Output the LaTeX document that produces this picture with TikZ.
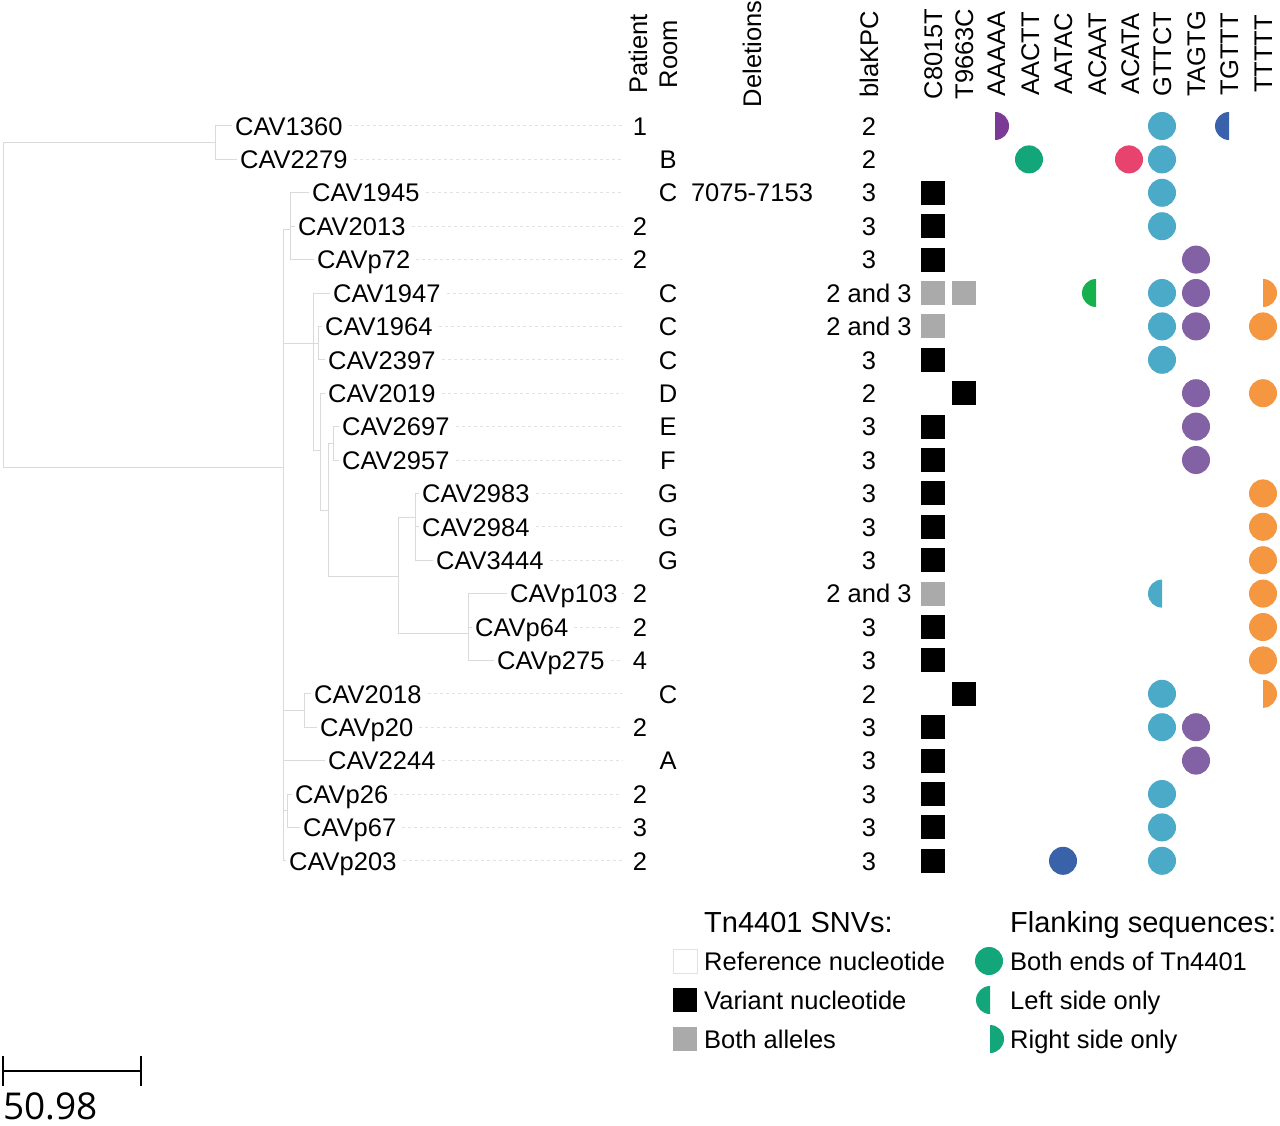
\documentclass[tikz,border=0pt]{standalone}
\usepackage{fontspec}
\setmainfont{Liberation Sans}
\newfontfamily\barfont{Open Sans}
\definecolor{treegray}{HTML}{DADADA}
\definecolor{leadgray}{HTML}{E2E2E2}
\definecolor{bothgray}{HTML}{AAAAAA}
\definecolor{cAAAAA}{HTML}{7A3A96}
\definecolor{cAACTT}{HTML}{14A67B}
\definecolor{cAATAC}{HTML}{3A62A8}
\definecolor{cACAAT}{HTML}{16B04F}
\definecolor{cACATA}{HTML}{E8436F}
\definecolor{cGTTCT}{HTML}{4AAAC8}
\definecolor{cTAGTG}{HTML}{8262A5}
\definecolor{cTGTTT}{HTML}{3A62AC}
\definecolor{cTTTTT}{HTML}{F59640}
\newcommand\flF[3]{\fill[#3] (#1,#2) circle (14);}
\newcommand\flL[3]{\begin{scope}\clip (#1-15,#2-15) rectangle (#1,#2+15);\fill[#3] (#1,#2) circle (14);\end{scope}}
\newcommand\flR[3]{\begin{scope}\clip (#1,#2-15) rectangle (#1+15,#2+15);\fill[#3] (#1,#2) circle (14);\end{scope}}
\newcommand\sqV[2]{\fill[black] (#1-12,#2-12) rectangle (#1+12,#2+12);}
\newcommand\sqB[2]{\fill[bothgray] (#1-12,#2-12) rectangle (#1+12,#2+12);}
\begin{document}
\begin{tikzpicture}[x=1pt,y=-1pt,
  lbl/.style={anchor=base west,inner sep=0pt,font=\fontsize{25.5}{30}\selectfont},
  val/.style={anchor=base,inner sep=0pt,font=\fontsize{25.5}{30}\selectfont},
  hdr/.style={anchor=base,rotate=90,inner sep=0pt,font=\fontsize{25.5}{30}\selectfont},
  legh/.style={anchor=base west,inner sep=0pt,font=\fontsize{29}{34}\selectfont},
  branch/.style={draw=treegray,line width=1pt},
  leader/.style={draw=leadgray,line width=1pt,dash pattern=on 3pt off 3pt},
]
\useasboundingbox[fill=white] (0,0) rectangle (1280,1126);

% ---------- leaves ----------
\foreach \i/\xl/\nm in {1/235/CAV1360,2/240/CAV2279,3/312/CAV1945,4/298/CAV2013,5/317/CAVp72,
  6/333/CAV1947,7/325/CAV1964,8/328/CAV2397,9/328/CAV2019,10/342/CAV2697,11/342/CAV2957,
  12/422/CAV2983,13/422/CAV2984,14/436/CAV3444,15/510/CAVp103,16/475/CAVp64,17/497/CAVp275,
  18/314/CAV2018,19/320/CAVp20,20/328/CAV2244,21/295/CAVp26,22/303/CAVp67,23/289/CAVp203}{
  \pgfmathsetmacro\yy{126+(\i-1)*33.4}
  \coordinate (r\i) at (0,\yy);
  \coordinate (t\i) at (\xl-3,\yy);
  \node[lbl] (leaf\i) at (\xl,\yy+9.2) {\nm};
  \draw[leader] (leaf\i.east |- r\i) ++(6,0) -- (622,\yy);
}

% ---------- tree ----------
\coordinate (root) at (3,304);
\coordinate (A) at (215,142.7);
\coordinate (B) at (283,467);
\coordinate (C1) at (290,230);
\coordinate (C2) at (313,343);
\coordinate (D) at (318,343);
\coordinate (E) at (320,450);
\coordinate (F) at (328,510);
\coordinate (G) at (333,443);
\coordinate (H) at (398,576);
\coordinate (I) at (415,517);
\coordinate (J) at (468,633);
\coordinate (K) at (304,710);
\coordinate (L) at (287,810);
\draw[branch] (root) |- (A); \draw[branch] (root) |- (B);
\draw[branch] (A) |- (t1); \draw[branch] (A) |- (t2);
\foreach \c in {C1,C2,K,t20,L,t23} {\draw[branch] (B) |- (\c);}
\foreach \c in {t3,t4,t5} {\draw[branch] (C1) |- (\c);}
\foreach \c in {t6,D,E} {\draw[branch] (C2) |- (\c);}
\foreach \c in {t7,t8} {\draw[branch] (D) |- (\c);}
\foreach \c in {t9,F} {\draw[branch] (E) |- (\c);}
\foreach \c in {G,H} {\draw[branch] (F) |- (\c);}
\foreach \c in {t10,t11} {\draw[branch] (G) |- (\c);}
\foreach \c in {I,J} {\draw[branch] (H) |- (\c);}
\foreach \c in {t12,t13,t14} {\draw[branch] (I) |- (\c);}
\foreach \c in {t15,t16,t17} {\draw[branch] (J) |- (\c);}
\foreach \c in {t18,t19} {\draw[branch] (K) |- (\c);}
\foreach \c in {t21,t22} {\draw[branch] (L) |- (\c);}

% ---------- headers ----------
\foreach \x/\h in {638/Patient,668/Room,752/Deletions,869/blaKPC,933/C8015T,964/T9663C,
  996/AAAAA,1030/AACTT,1063/AATAC,1097/ACAAT,1130/ACATA,1162/GTTCT,1196/TAGTG,1229/TGTTT,1263/TTTTT}{
  \node[hdr] (h\h) at (\x+9.2,54) {\h};
}

% ---------- patient ----------
\foreach \i/\v in {1/1,4/2,5/2,15/2,16/2,17/4,19/2,21/2,22/3,23/2}{
  \pgfmathsetmacro\yy{126+(\i-1)*33.4}
  \node[val] (p\i) at (640,\yy+9.2) {\v};
}
% ---------- room ----------
\foreach \i/\v in {2/B,3/C,6/C,7/C,8/C,9/D,10/E,11/F,12/G,13/G,14/G,18/C,20/A}{
  \pgfmathsetmacro\yy{126+(\i-1)*33.4}
  \node[val] (rm\i) at (668,\yy+9.2) {\v};
}
\node[val] (del3) at (752,192.8+9.2) {7075-7153};
% ---------- blaKPC ----------
\foreach \i/\v in {1/2,2/2,3/3,4/3,5/3,6/2 and 3,7/2 and 3,8/3,9/2,10/3,11/3,12/3,13/3,14/3,
  15/2 and 3,16/3,17/3,18/2,19/3,20/3,21/3,22/3,23/3}{
  \pgfmathsetmacro\yy{126+(\i-1)*33.4}
  \node[val] (kpc\i) at (869,\yy+9.2) {\v};
}

% ---------- SNVs ----------
\foreach \i in {3,4,5,8,10,11,12,13,14,16,17,19,20,21,22,23}{
  \pgfmathsetmacro\yy{126+(\i-1)*33.4}
  \sqV{933}{\yy}
}
\foreach \i in {6,7,15}{
  \pgfmathsetmacro\yy{126+(\i-1)*33.4}
  \sqB{933}{\yy}
}
\sqB{964}{293.0}
\sqV{964}{393.2}
\sqV{964}{693.8}

% ---------- flanking sequences ----------
\flR{995}{126.0}{cAAAAA}
\flL{1229}{126.0}{cTGTTT}
\flF{1029}{159.4}{cAACTT}
\flF{1129}{159.4}{cACATA}
\foreach \i in {1,2,3,4,6,7,8,18,19,21,22,23}{
  \pgfmathsetmacro\yy{126+(\i-1)*33.4}
  \flF{1162}{\yy}{cGTTCT}
}
\flL{1162}{593.6}{cGTTCT}
\foreach \i in {5,6,7,9,10,11,19,20}{
  \pgfmathsetmacro\yy{126+(\i-1)*33.4}
  \flF{1196}{\yy}{cTAGTG}
}
\flL{1096}{293.0}{cACAAT}
\flR{1263}{293.0}{cTTTTT}
\flR{1263}{693.8}{cTTTTT}
\foreach \i in {7,9,12,13,14,15,16,17}{
  \pgfmathsetmacro\yy{126+(\i-1)*33.4}
  \flF{1263}{\yy}{cTTTTT}
}
\flF{1063}{860.8}{cAATAC}

% ---------- legend ----------
\node[legh] (legSNV) at (704,932.5) {Tn4401 SNVs:};
\node[legh] (legFlank) at (1010,932.5) {Flanking sequences:};
\draw[draw=leadgray,line width=1pt,fill=white] (673,949) rectangle (697,973);
\sqV{685}{1000}
\sqB{685}{1039}
\node[lbl] (legRef) at (704,961+9.2) {Reference nucleotide};
\node[lbl] (legVar) at (704,1000+9.2) {Variant nucleotide};
\node[lbl] (legBoth) at (704,1039+9.2) {Both alleles};
\flF{989}{961}{cAACTT}
\flL{990}{1000}{cAACTT}
\flR{990}{1039}{cAACTT}
\node[lbl] (legEnds) at (1010,961+9.2) {Both ends of Tn4401};
\node[lbl] (legLeft) at (1010,1000+9.2) {Left side only};
\node[lbl] (legRight) at (1010,1039+9.2) {Right side only};

% ---------- scale bar ----------
\coordinate (sbL) at (3,1071);
\coordinate (sbR) at (141,1071);
\draw[line width=2.2pt] (sbL) -- (sbR);
\draw[line width=2pt] (sbL) ++(0,-15) -- ++(0,30);
\draw[line width=2pt] (sbR) ++(0,-15) -- ++(0,30);
\node[anchor=base west,inner sep=0pt,text depth=0pt,font=\barfont\fontsize{37}{40}\selectfont] (sbtext) at (3,1119) {50.98};
\end{tikzpicture}
\end{document}
